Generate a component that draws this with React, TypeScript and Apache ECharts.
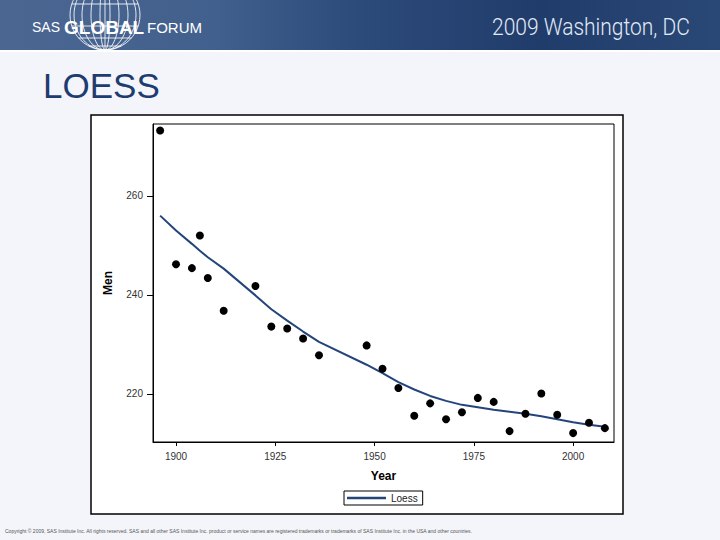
import { useEffect, useRef } from 'react';
import * as echarts from 'echarts';

// Olympic 1500 m winning times (seconds), men
const years = [
  1896, 1900, 1904, 1906, 1908, 1912, 1920, 1924, 1928, 1932, 1936, 1948, 1952, 1956,
  1960, 1964, 1968, 1972, 1976, 1980, 1984, 1988, 1992, 1996, 2000, 2004, 2008,
];
const menTimes = [
  273.2, 246.2, 245.4, 252.0, 243.4, 236.8, 241.8, 233.6, 233.2, 231.2, 227.8, 229.8, 225.1, 221.2,
  215.6, 218.1, 214.9, 216.3, 219.2, 218.4, 212.5, 216.0, 220.1, 215.8, 212.1, 214.2, 213.1,
];
const loessFit = [
  256.0, 253.0, 250.3, 248.9, 247.6, 245.3, 239.9, 237.1, 234.8, 232.6, 230.5, 225.9, 224.2, 222.4,
  220.9, 219.6, 218.6, 217.8, 217.3, 216.8, 216.4, 216.0, 215.5, 214.9, 214.3, 213.8, 213.4,
];
const xTicks = [1900, 1925, 1950, 1975, 2000];
const yTicks = [220, 240, 260];

const FONT = '"Liberation Sans", Arial, sans-serif';
const NAVY = '#24457a';

function globe() {
  const cx = 105;
  const cy = 15;
  const r = 35;
  const stroke = { fill: 'none', stroke: 'rgba(255,255,255,0.85)', lineWidth: 1 };
  const items: any[] = [{ type: 'circle', shape: { cx, cy, r }, style: stroke }];
  [5, 14, 23, 31].forEach(rx => {
    items.push({ type: 'ellipse', shape: { cx, cy, rx, ry: r }, style: stroke });
  });
  items.push({ type: 'line', shape: { x1: cx, y1: cy - r, x2: cx, y2: cy + r }, style: stroke });
  [-10, 4, 26, 38, 46].forEach(y => {
    const dy = y - cy;
    const half = Math.sqrt(r * r - dy * dy);
    items.push({ type: 'line', shape: { x1: cx - half, y1: y, x2: cx + half, y2: y }, style: stroke });
  });
  return { type: 'group', children: items };
}

export default function App() {
  const chartRef = useRef<HTMLDivElement>(null);

  useEffect(() => {
    if (!chartRef.current) return;
    document.body.style.margin = '0';

    const chart = echarts.init(chartRef.current, null, { renderer: 'svg' });
    chart.setOption({
      animation: false,
      backgroundColor: '#f3f5fa',
      textStyle: { fontFamily: FONT },
      graphic: [
        {
          type: 'rect',
          z: -1,
          shape: { x: 0, y: 0, width: 720, height: 50 },
          style: {
            fill: new echarts.graphic.LinearGradient(0, 0, 1, 0, [
              { offset: 0, color: '#4b6691' },
              { offset: 0.3, color: '#42608d' },
              { offset: 0.5, color: '#2c4a7a' },
              { offset: 0.75, color: '#203c6b' },
              { offset: 1, color: '#2a4876' },
            ]),
          },
        },
        { type: 'rect', z: -1, shape: { x: 0, y: 50, width: 720, height: 2 }, style: { fill: '#ffffff' } },
        globe(),
        {
          type: 'text', x: 32, y: 27,
          style: { text: 'SAS', fontSize: 14, fontFamily: FONT, fill: '#ffffff', verticalAlign: 'middle' },
        },
        {
          type: 'text', x: 64, y: 27,
          style: { text: 'GLOBAL', fontSize: 19, fontWeight: 'bold', fontFamily: FONT, fill: '#ffffff', verticalAlign: 'middle' },
        },
        {
          type: 'text', x: 147, y: 27,
          style: { text: 'FORUM', fontSize: 15, fontFamily: FONT, fill: '#ffffff', verticalAlign: 'middle' },
        },
        {
          type: 'text', x: 492, y: 27, scaleX: 0.875,
          style: { text: '2009 Washington, DC', fontSize: 24, fontWeight: 300, fontFamily: 'Roboto, ' + FONT, fill: '#e3ebf6', verticalAlign: 'middle' },
        },
        {
          type: 'text', x: 43, y: 85,
          style: { text: 'LOESS', fontSize: 35, fontFamily: FONT, fill: '#1d3c70', verticalAlign: 'middle' },
        },
        {
          type: 'rect',
          z: -1,
          shape: { x: 91, y: 115, width: 532, height: 399 },
          style: { fill: '#ffffff', stroke: '#000000', lineWidth: 1.5 },
        },
        {
          type: 'text', x: 5, y: 531,
          style: {
            text: 'Copyright \u00a9 2009, SAS Institute Inc. All rights reserved. SAS and all other SAS Institute Inc. product or service names are registered trademarks or trademarks of SAS Institute Inc. in the USA and other countries.',
            fontSize: 5, fontFamily: FONT, fill: '#555555', verticalAlign: 'middle',
          },
        },
      ],
      legend: {
        left: 344,
        top: 491,
        padding: [1, 5, 1, 3],
        borderColor: '#000',
        borderWidth: 1,
        itemWidth: 39,
        itemHeight: 2.5,
        data: [{ name: 'Loess', icon: 'rect' }],
        textStyle: { fontSize: 10, color: '#222', fontFamily: FONT, lineHeight: 12 },
      },
      grid: {
        left: 153,
        top: 124,
        width: 461,
        height: 318,
        show: true,
        borderColor: '#000',
        borderWidth: 1,
        backgroundColor: 'transparent',
      },
      xAxis: {
        type: 'value',
        min: 1894.2,
        max: 2010.3,
        name: 'Year',
        nameLocation: 'middle',
        nameGap: 28,
        nameTextStyle: { fontSize: 12, fontWeight: 'bold', color: '#000', fontFamily: FONT },
        axisLine: { show: true, onZero: false, lineStyle: { color: '#000', width: 1 } },
        axisTick: { show: true, customValues: xTicks, length: 4, lineStyle: { color: '#000' } },
        axisLabel: {
          customValues: xTicks, fontSize: 10, color: '#333', margin: 9, fontFamily: FONT,
          formatter: (v: number) => String(v),
        },
        splitLine: { show: false },
      },
      yAxis: {
        type: 'value',
        min: 210.3,
        max: 274.5,
        name: 'Men',
        nameLocation: 'middle',
        nameGap: 39,
        nameTextStyle: { fontSize: 12, fontWeight: 'bold', color: '#000', fontFamily: FONT },
        axisLine: { show: true, onZero: false, lineStyle: { color: '#000', width: 1 } },
        axisTick: { show: true, customValues: yTicks, length: 6, lineStyle: { color: '#000' } },
        axisLabel: {
          customValues: yTicks, fontSize: 10, color: '#333', margin: 10, fontFamily: FONT,
          formatter: (v: number) => String(v),
        },
        splitLine: { show: false },
      },
      series: [
        {
          name: 'Men',
          type: 'scatter',
          symbol: 'circle',
          symbolSize: 8,
          itemStyle: { color: '#000', opacity: 1 },
          data: years.map((y, i) => [y, menTimes[i]]),
          z: 3,
        },
        {
          name: 'Loess',
          type: 'line',
          symbol: 'none',
          smooth: false,
          lineStyle: { color: NAVY, width: 2 },
          itemStyle: { color: NAVY },
          data: years.map((y, i) => [y, loessFit[i]]),
          z: 2,
        },
      ],
    });

    return () => chart.dispose();
  }, []);

  return <div ref={chartRef} style={{ width: 720, height: 540 }} />;
}
